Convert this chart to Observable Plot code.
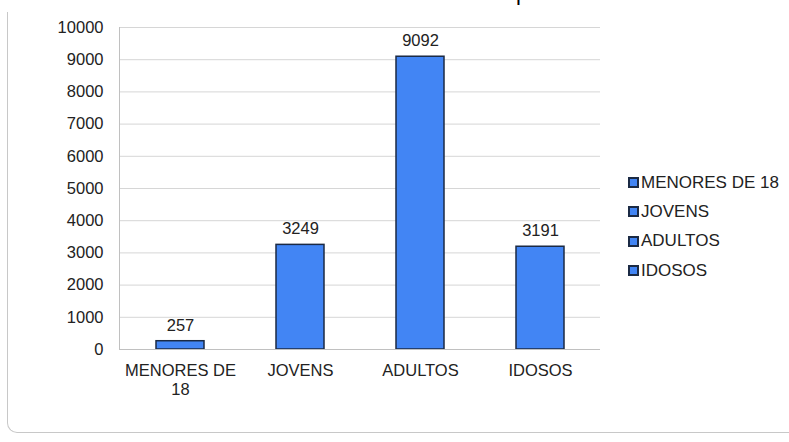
<!DOCTYPE html>
<html><head><meta charset="utf-8">
<script src="https://cdn.jsdelivr.net/npm/d3@7"></script>
<script src="https://cdn.jsdelivr.net/npm/@observablehq/plot@0.6"></script>
<style>
html,body{margin:0;padding:0;background:#fff;overflow:hidden;}
#wrap{position:relative;width:789px;height:442px;font-family:"Liberation Sans",Arial,sans-serif;overflow:hidden;}
#frame{position:absolute;left:7px;top:12px;width:800px;height:421px;border-left:1px solid #c8c8c8;border-bottom:1px solid #c8c8c8;border-bottom-left-radius:10px;box-sizing:border-box;}
#title{position:absolute;left:516px;top:-20px;font-size:22px;line-height:25px;color:#000;}
#legend{position:absolute;left:628px;top:168px;font-size:17px;color:#222;}
#legend div{height:29.3px;display:flex;align-items:center;}
#legend span.sw{display:inline-block;width:7px;height:7px;background:#4285f4;border:2px solid #1b2a44;margin-right:2px;}
</style></head>
<body><div id="wrap"><div id="frame"></div><div id="title">p</div><div id="chart"></div><div id="legend"></div></div>
<script>
const categories = ["MENORES DE 18", "JOVENS", "ADULTOS", "IDOSOS"];
const values = [257, 3249, 9092, 3191];
const yTicks = [0,1000,2000,3000,4000,5000,6000,7000,8000,9000,10000];
const data = categories.map((c,i)=>({cat:c, v:values[i]}));

const chart = Plot.plot({
  width: 789, height: 442,
  marginLeft: 119, marginRight: 189, marginTop: 27, marginBottom: 93,
  style: {fontFamily: '"Liberation Sans", Arial, sans-serif', fontSize: "17px", color: "#222", background: "transparent"},
  x: {domain: categories, paddingInner: 0.6, paddingOuter: 0.3, label: null, axis: null},
  y: {domain: [0, 10000], label: null, axis: null},
  marks: [
    Plot.gridY(yTicks, {stroke: "#d6d6d6", strokeOpacity: 1, strokeWidth: 1}),
    Plot.axisY(yTicks, {tickSize: 0, tickPadding: 16, fontSize: 16.5, tickFormat: d => String(d), fill: "#222"}),
    Plot.barY(data, {x: "cat", y: "v", fill: "#4285f4", stroke: "#1b2a44", strokeWidth: 1.5}),
    Plot.ruleY([0], {stroke: "#c0c0c0"}),
    Plot.text(data, {x: "cat", y: "v", text: d => String(d.v), dy: -16, fontSize: 16.5, fill: "#222"}),
    Plot.axisX(categories, {tickSize: 0, tickPadding: 12, fontSize: 16.5, fill: "#222", lineWidth: 7, lineHeight: 1.2, textAnchor: "middle"})
  ]
});
document.getElementById("chart").appendChild(chart);

// left axis line at plot's left edge
const svg = d3.select(chart);
const yS = chart.scale("y");
svg.append("line").attr("x1",119.5).attr("x2",119.5).attr("y1",yS.apply(10000)).attr("y2",yS.apply(0)).attr("stroke","#c0c0c0");

const lg = document.getElementById("legend");
categories.forEach(c => {
  const d = document.createElement("div");
  d.innerHTML = '<span class="sw"></span>' + c;
  lg.appendChild(d);
});
</script></body></html>
